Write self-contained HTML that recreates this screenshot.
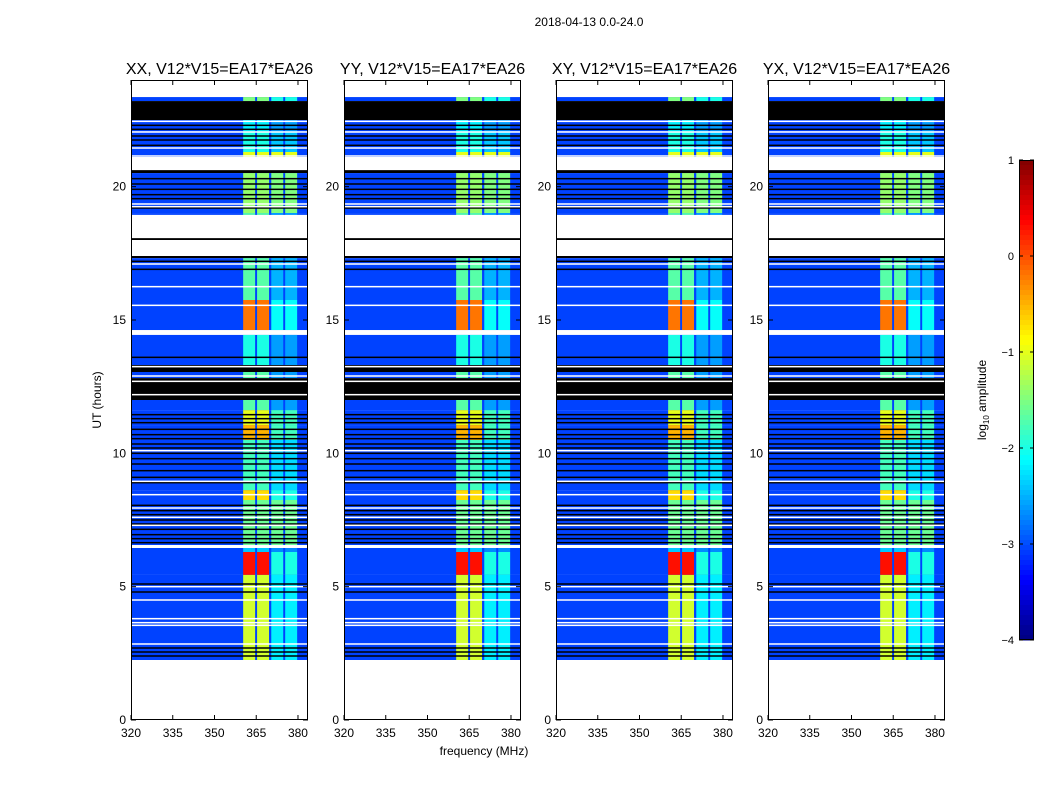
<!DOCTYPE html>
<html><head><meta charset="utf-8"><style>
body{margin:0;background:#fff;}
svg text{font-family:"Liberation Sans",sans-serif;}
</style></head><body>
<svg id="fig" width="1050" height="800" xmlns="http://www.w3.org/2000/svg">
<rect width="1050" height="800" fill="#fff"/>
<text x="589" y="26" font-size="12" text-anchor="middle">2018-04-13 0.0-24.0</text>
<text x="484" y="755" font-size="12" text-anchor="middle">frequency (MHz)</text>
<text transform="translate(101,400) rotate(-90)" font-size="12" text-anchor="middle">UT (hours)</text>
<g id="panels"></g>
<g id="cbar"></g>
</svg>
<script>
const panelTitles=["XX, V12*V15=EA17*EA26","YY, V12*V15=EA17*EA26","XY, V12*V15=EA17*EA26","YX, V12*V15=EA17*EA26"];
const panelLeft=[131,344,556,768];
const xTicks=[320,335,350,365,380];
const yTicks=[0,5,10,15,20];
const cbarTicks=[1,0,-1,-2,-3,-4];
const segStart=[23.36,23.21,22.5,22.08,21.3,21.11,20.62,20.51,19.01,18.94,18.07,18.0,17.4,17.32,15.75,14.62,14.44,13.31,13.05,12.82,12.0,11.62,11.06,10.5,8.62,8.25,6.56,6.45,6.3,5.44,2.25,2.1,0];
const segEnd  =[24,23.36,23.21,22.5,22.08,21.3,21.11,20.62,20.51,19.01,18.94,18.07,18.0,17.4,17.32,15.75,14.62,14.44,13.31,13.05,12.82,12.0,11.62,11.06,10.5,8.62,8.25,6.56,6.45,6.3,5.44,2.25,2.1];
const segType =['w','d','k','d','d','d','w','k','d','d','w','k','w','k','d','d','w','d','k','d','k','d','d','d','d','d','d','w','d','d','d','w','w'];
const segAB   =[0,-1.5,0,-2.2,-2.0,-1.0,0,0,-1.4,-1.7,0,0,0,0,-1.7,-0.2,0,-2.0,0,-1.7,0,-1.7,-1.0,-0.5,-1.8,-0.7,-1.6,0,-2.4,0.3,-1.1,0,0];
const segCD   =[0,-2.0,0,-2.6,-2.4,-1.0,0,0,-1.5,-2.6,0,0,0,0,-2.5,-2.1,0,-2.6,0,-2.6,0,-2.6,-1.8,-1.8,-2.3,-2.0,-1.6,0,-2.7,-2.0,-2.2,0,0];
const blackLines=[22.3,22.15,21.9,21.75,21.55,20.3,20.1,19.9,19.7,19.55,19.2,17.2,16.9,13.6,12.6,11.45,11.3,11.15,10.9,10.7,10.55,10.35,10.2,10.0,9.8,9.6,9.35,9.1,8.9,8.05,7.85,7.7,7.5,7.35,7.15,6.95,6.8,6.65,5.1,4.8,2.7,2.55,2.4];
const whiteLines=[22.45,22.05,21.45,21.15,19.35,19.25,17.1,16.25,15.55,14.5,13.25,12.9,12.7,12.2,10.1,8.95,8.45,7.95,7.6,7.3,5.0,4.5,3.8,3.65,3.55,2.85];
const bands=[[360.3,364.6,'AB'],[365.3,369.6,'AB'],[370.4,374.7,'CD'],[375.4,379.7,'CD']];
const bgLevel=-3.05, fMin=320, fMax=383.6, W=177, pTop=80, pBot=720;
const NS="http://www.w3.org/2000/svg";
function jet(v){let t=Math.max(0,Math.min(1,(v+4)/5));const c=x=>Math.round(255*Math.max(0,Math.min(1,1.5-Math.abs(x))));return `rgb(${c(4*t-3)},${c(4*t-2)},${c(4*t-1)})`;}
function mk(tag,attrs,parent){const e=document.createElementNS(NS,tag);for(const k in attrs)e.setAttribute(k,attrs[k]);parent.appendChild(e);return e;}
const yOf=h=>pBot-(h/24)*(pBot-pTop);
const panelsG=document.getElementById('panels');
panelLeft.forEach((L,p)=>{
  const xOf=f=>L+(f-fMin)/(fMax-fMin)*W;
  const g=mk('g',{},panelsG);
  
  
  for(let i=0;i<segStart.length;i++){
    const y1=yOf(segEnd[i]),y2=yOf(segStart[i]);
    let fill=segType[i]==='w'?'#fff':segType[i]==='k'?'#000':jet(bgLevel);
    const r=mk('rect',{x:L,y:y1,width:W,height:y2-y1,fill:fill},g);
    
    
    if(segType[i]==='d'){
      bands.forEach(b=>{
        const lv=b[2]==='AB'?segAB[i]:segCD[i];
        const br=mk('rect',{x:xOf(b[0]),y:y1,width:xOf(b[1])-xOf(b[0]),height:y2-y1,fill:jet(lv)},g);
        
        
      });
    }
  }
  blackLines.forEach(h=>{const l=mk('rect',{x:L,y:yOf(h)-0.75,width:W,height:1.5,fill:'#000'},g);
    
    });
  whiteLines.forEach(h=>{const l=mk('rect',{x:L,y:yOf(h)-0.75,width:W,height:1.5,fill:'#fff'},g);
    
    });
  const fr=mk('rect',{x:L+0.5,y:pTop+0.5,width:W-1,height:pBot-pTop-1,fill:'none',stroke:'#000','stroke-width':1},g);
  
  
  xTicks.forEach(f=>{const x=xOf(f);
    mk('line',{x1:x,y1:pBot,x2:x,y2:pBot-5,stroke:'#000'},g);
    mk('line',{x1:x,y1:pTop,x2:x,y2:pTop+5,stroke:'#000'},g);
    const t=mk('text',{x:x,y:pBot+17,'font-size':12,'text-anchor':'middle'},g);t.textContent=f;
    
    });
  yTicks.forEach(h=>{const y=yOf(h);
    mk('line',{x1:L,y1:y,x2:L+5,y2:y,stroke:'#000'},g);
    mk('line',{x1:L+W,y1:y,x2:L+W-5,y2:y,stroke:'#000'},g);
    const t=mk('text',{x:L-5,y:y+4,'font-size':12,'text-anchor':'end'},g);t.textContent=h;
    
    });
  const tt=mk('text',{x:L+W/2,y:74,'font-size':16,'text-anchor':'middle'},g);tt.textContent=panelTitles[p];
  
  
});
const cb=document.getElementById('cbar');


const cTop=160,cBot=640,cX=1019,cW=15;
for(let i=0;i<96;i++){const v=1-5*i/96;mk('rect',{x:cX,y:cTop+i*5,width:cW,height:5.5,fill:jet(v-5/192)},cb);}
mk('rect',{x:cX+0.5,y:cTop+0.5,width:cW-1,height:cBot-cTop-1,fill:'none',stroke:'#000'},cb);
cbarTicks.forEach(v=>{const y=cTop+(1-v)/5*(cBot-cTop);
  mk('line',{x1:cX,y1:y,x2:cX+4,y2:y,stroke:'#000'},cb);
  mk('line',{x1:cX+cW,y1:y,x2:cX+cW-4,y2:y,stroke:'#000'},cb);
  const t=mk('text',{x:cX-5,y:y+4,'font-size':11,'text-anchor':'end'},cb);t.textContent=v<0?'\u2212'+(-v):v;
  
  });
const cl=mk('text',{transform:'translate(986,400) rotate(-90)','font-size':12,'text-anchor':'middle'},cb);
cl.innerHTML='log<tspan font-size="8" dy="3">10</tspan><tspan dy="-3"> amplitude</tspan>';


</script>
</body></html>
